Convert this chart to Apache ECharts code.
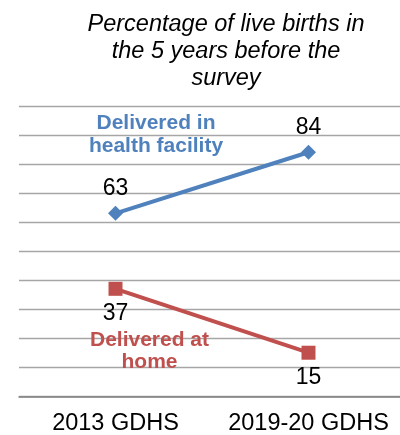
<!DOCTYPE html>
<html>
<head>
<meta charset="utf-8">
<script src="https://cdn.jsdelivr.net/npm/echarts@6/dist/echarts.min.js"></script>
<style>
  html, body { margin: 0; padding: 0; background: #ffffff; }
  #chart { width: 400px; height: 435px; }
</style>
</head>
<body>
<div id="chart"></div>
<script>
// Survey rounds on the x axis
const surveys = ['2013 GDHS', '2019-20 GDHS'];
// Share of live births (%) by place of delivery
const facilityValues = [63, 84];
const homeValues = [37, 15];
// Value axis range
const yMin = 0;
const yMax = 100;
const yStep = 10;

const titleText = 'Percentage of live births in\nthe 5 years before the\nsurvey';
const facilityName = 'Delivered in\nhealth facility';
const homeName = 'Delivered at\nhome';

const FONT = '"Liberation Sans", Arial, sans-serif';
const BLUE = '#4F81BD';
const RED = '#C0504D';

const chart = echarts.init(document.getElementById('chart'), null, { renderer: 'canvas' });

chart.setOption({
  backgroundColor: '#ffffff',
  animation: false,
  grid: {
    left: 19, top: 105.8, width: 386, bottom: 38.7,
    containLabel: false,
    outerBoundsMode: 'none'
  },
  xAxis: {
    type: 'category',
    data: surveys,
    boundaryGap: true,
    axisLine: { show: true, lineStyle: { color: '#808080', width: 1.5 } },
    axisTick: { show: false },
    axisLabel: {
      interval: 0,
      hideOverlap: false,
      color: '#000000',
      fontFamily: FONT,
      fontSize: 23.5,
      margin: 15
    }
  },
  yAxis: {
    type: 'value',
    min: yMin,
    max: yMax,
    interval: yStep,
    axisLine: { show: false },
    axisTick: { show: false },
    axisLabel: { show: false },
    splitLine: { show: true, lineStyle: { color: '#a6a6a6', width: 1.3 } }
  },
  series: [
    {
      name: 'Delivered in health facility',
      type: 'line',
      data: facilityValues,
      symbol: 'diamond',
      symbolSize: 15,
      lineStyle: { color: BLUE, width: 4 },
      itemStyle: { color: BLUE },
      label: {
        show: true,
        position: 'top',
        distance: 6,
        color: '#000000',
        fontFamily: FONT,
        fontSize: 23
      }
    },
    {
      name: 'Delivered at home',
      type: 'line',
      data: homeValues,
      symbol: 'rect',
      symbolSize: 14,
      lineStyle: { color: RED, width: 4 },
      itemStyle: { color: RED },
      label: {
        show: true,
        position: 'bottom',
        distance: 6,
        color: '#000000',
        fontFamily: FONT,
        fontSize: 23
      }
    }
  ],
  graphic: [
    {
      type: 'text',
      x: 226,
      y: 51.3,
      style: {
        text: titleText,
        align: 'center',
        verticalAlign: 'middle',
        fill: '#000000',
        font: 'italic 23.5px ' + FONT,
        lineHeight: 27
      }
    },
    {
      type: 'text',
      x: 156,
      y: 134.3,
      z: 10,
      style: {
        text: facilityName,
        align: 'center',
        verticalAlign: 'middle',
        fill: BLUE,
        font: 'bold 21px ' + FONT,
        lineHeight: 23
      }
    },
    {
      type: 'text',
      x: 149.5,
      y: 351.5,
      z: 10,
      style: {
        text: homeName,
        align: 'center',
        verticalAlign: 'middle',
        fill: RED,
        font: 'bold 21px ' + FONT,
        lineHeight: 22
      }
    }
  ]
});
</script>
</body>
</html>
